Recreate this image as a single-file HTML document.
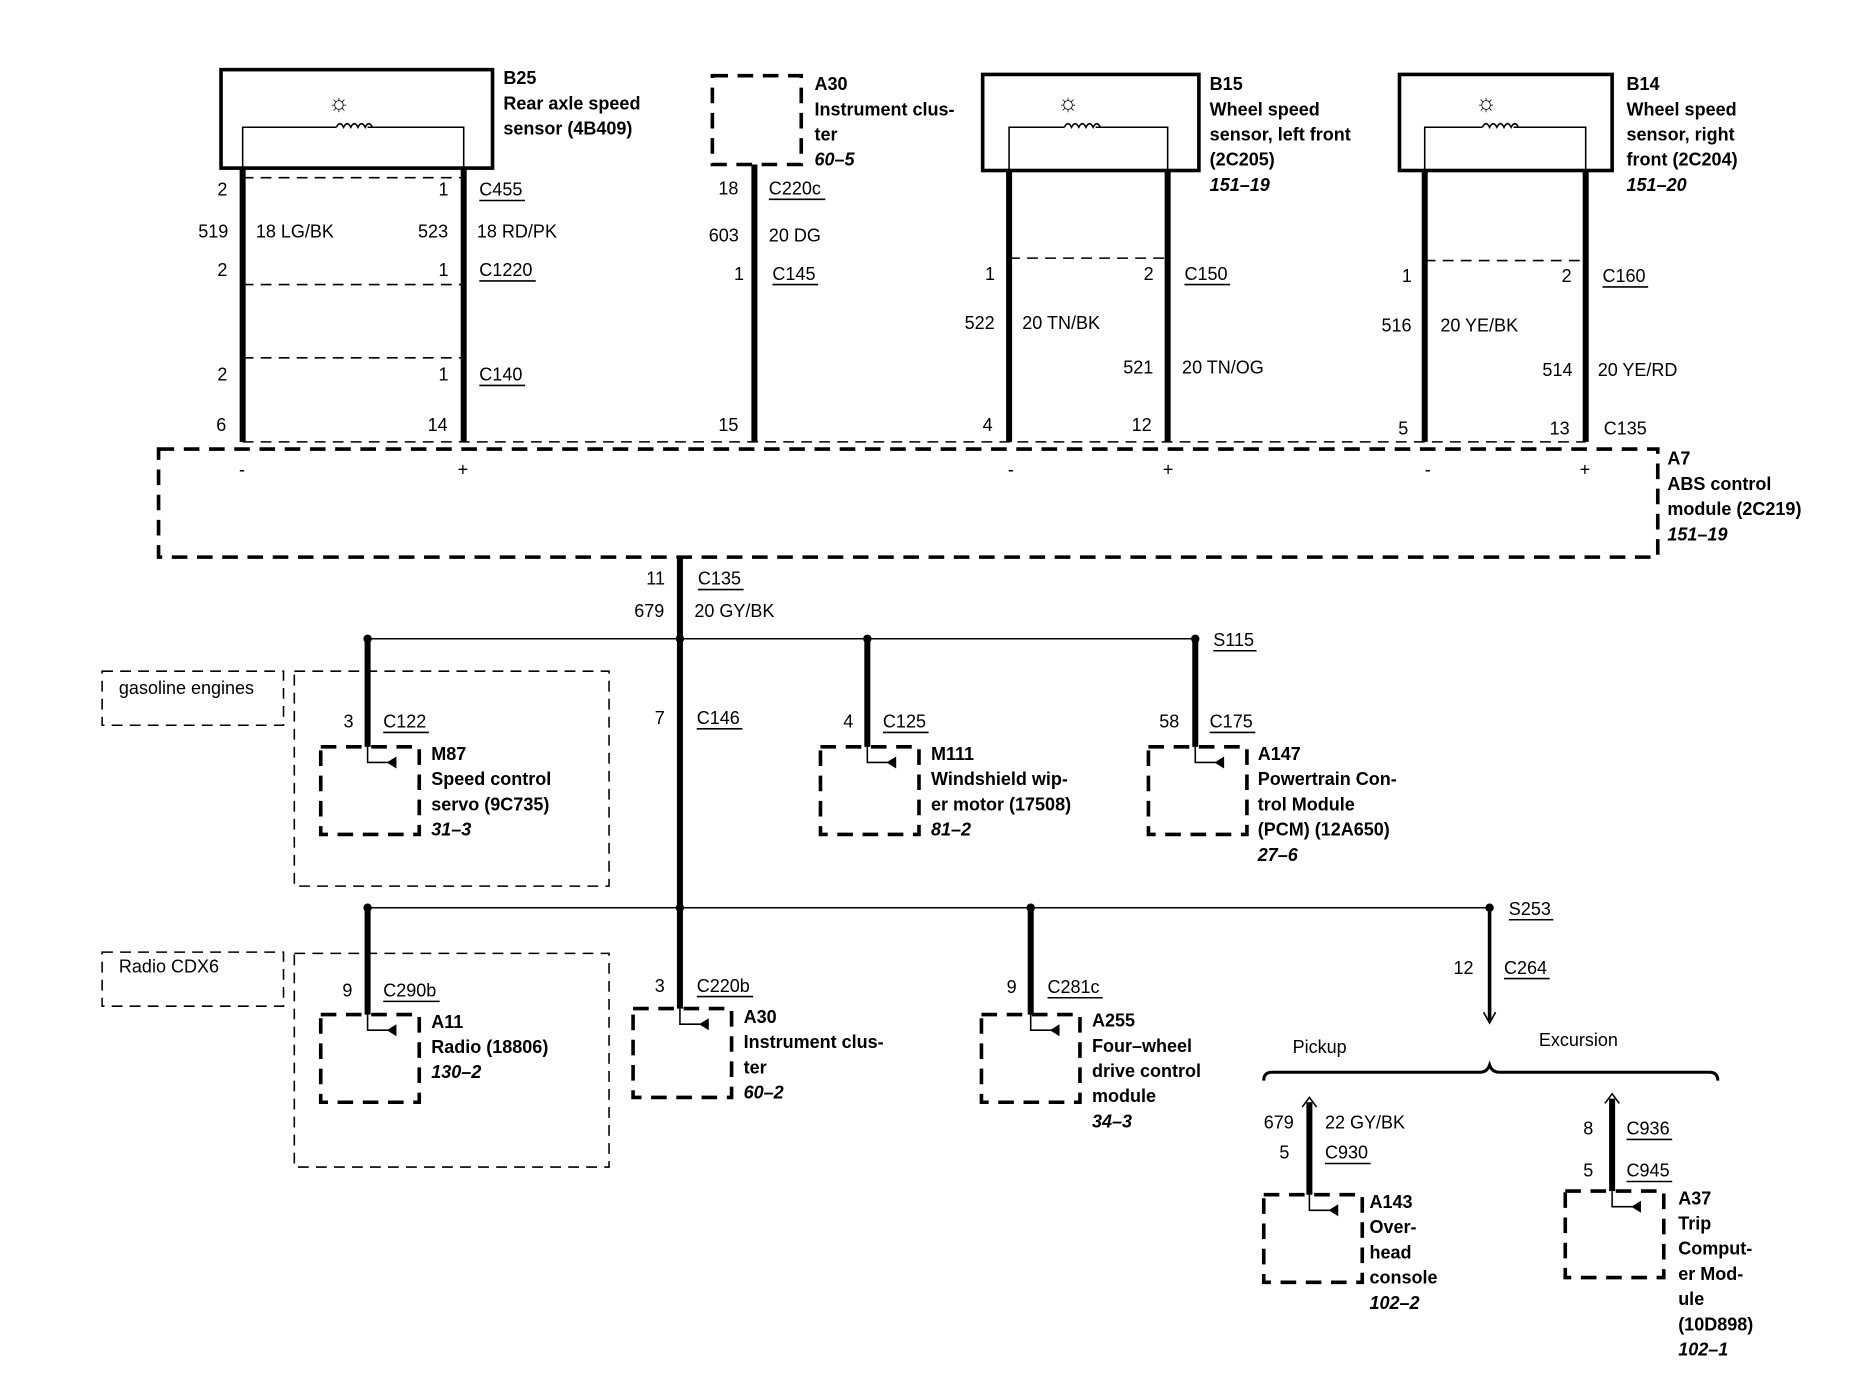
<!DOCTYPE html>
<html><head><meta charset="utf-8"><style>
html,body{margin:0;padding:0;background:#fff;}
svg{display:block;}
text{font-family:"Liberation Sans",sans-serif;font-size:15px;fill:#000;}
.b{font-weight:bold;}
.i{font-weight:bold;font-style:italic;}
.w{stroke:#000;stroke-width:5;fill:none;}
.t{stroke:#000;stroke-width:1.3;fill:none;}
.d{stroke:#000;stroke-width:1.3;fill:none;stroke-dasharray:9 6;}
.m{stroke:#000;stroke-width:3;fill:none;stroke-dasharray:13 8;}
.s{stroke:#000;stroke-width:3;fill:none;}
</style></head><body>
<svg width="1874" height="1376" viewBox="0 0 1560 1146" preserveAspectRatio="none" xmlns="http://www.w3.org/2000/svg">
<rect width="1560" height="1146" fill="#fff"/>

<!-- B25 -->
<rect x="184" y="58" width="226" height="82" class="s"/>
<path class="t" d="M202 148 V106 H280 M306 106 H386 V148"/>
<path class="t" d="M280 106 q3-6 6 0 q3-6 6 0 q3-6 6 0 q3-6 6 0 q3-6 6 0"/>
<text x="273" y="92" style="font-size:20px">☼</text>
<text x="419" y="70" class="b">B25</text>
<text x="419" y="91" class="b">Rear axle speed</text>
<text x="419" y="112" class="b">sensor (4B409)</text>
<path class="w" d="M202 140 V368 M386 140 V368"/>
<path class="d" d="M202 148 H386 M202 237 H386 M202 298 H386"/>
<text x="181" y="163">2</text><text x="365" y="163">1</text><text x="399" y="163">C455</text><path class="t" d="M399 167 H437"/>
<text x="165" y="198">519</text><text x="213" y="198">18 LG/BK</text><text x="348" y="198">523</text><text x="397" y="198">18 RD/PK</text>
<text x="181" y="230">2</text><text x="365" y="230">1</text><text x="399" y="230">C1220</text><path class="t" d="M399 234 H446"/>
<text x="181" y="317">2</text><text x="365" y="317">1</text><text x="399" y="317">C140</text><path class="t" d="M399 321 H437"/>
<text x="180" y="359">6</text><text x="356" y="359">14</text>

<!-- A30 top -->
<rect x="593" y="63" width="74" height="74" class="m"/>
<path class="w" d="M628 137 V368"/>
<text x="678" y="75" class="b">A30</text>
<text x="678" y="96" class="b">Instrument clus-</text>
<text x="678" y="117" class="b">ter</text>
<text x="678" y="138" class="i">60–5</text>
<text x="598" y="162">18</text><text x="640" y="162">C220c</text><path class="t" d="M640 166 H687"/>
<text x="590" y="201">603</text><text x="640" y="201">20 DG</text>
<text x="611" y="233">1</text><text x="643" y="233">C145</text><path class="t" d="M643 237 H681"/>
<text x="598" y="359">15</text>

<!-- B15 -->
<rect x="818" y="62" width="180" height="80" class="s"/>
<path class="t" d="M840 150 V106 H886 M912 106 H972 V150"/>
<path class="t" d="M886 106 q3-6 6 0 q3-6 6 0 q3-6 6 0 q3-6 6 0 q3-6 6 0"/>
<text x="880" y="92" style="font-size:20px">☼</text>
<path class="w" d="M840 142 V368 M972 142 V368"/>
<path class="d" d="M840 215 H972"/>
<text x="1007" y="75" class="b">B15</text>
<text x="1007" y="96" class="b">Wheel speed</text>
<text x="1007" y="117" class="b">sensor, left front</text>
<text x="1007" y="138" class="b">(2C205)</text>
<text x="1007" y="159" class="i">151–19</text>
<text x="820" y="233">1</text><text x="952" y="233">2</text><text x="986" y="233">C150</text><path class="t" d="M986 237 H1024"/>
<text x="803" y="274">522</text><text x="851" y="274">20 TN/BK</text>
<text x="935" y="311">521</text><text x="984" y="311">20 TN/OG</text>
<text x="818" y="359">4</text><text x="942" y="359">12</text>

<!-- B14 -->
<rect x="1165" y="62" width="177" height="80" class="s"/>
<path class="t" d="M1186 150 V106 H1234 M1260 106 H1320 V150"/>
<path class="t" d="M1234 106 q3-6 6 0 q3-6 6 0 q3-6 6 0 q3-6 6 0 q3-6 6 0"/>
<text x="1228" y="92" style="font-size:20px">☼</text>
<path class="w" d="M1186 142 V368 M1320 142 V368"/>
<path class="d" d="M1186 217 H1320"/>
<text x="1354" y="75" class="b">B14</text>
<text x="1354" y="96" class="b">Wheel speed</text>
<text x="1354" y="117" class="b">sensor, right</text>
<text x="1354" y="138" class="b">front (2C204)</text>
<text x="1354" y="159" class="i">151–20</text>
<text x="1167" y="235">1</text><text x="1300" y="235">2</text><text x="1334" y="235">C160</text><path class="t" d="M1334 239 H1372"/>
<text x="1150" y="276">516</text><text x="1199" y="276">20 YE/BK</text>
<text x="1284" y="313">514</text><text x="1330" y="313">20 YE/RD</text>
<text x="1164" y="362">5</text><text x="1290" y="362">13</text><text x="1335" y="362">C135</text>

<!-- C135 dashed line & ABS module -->
<path class="d" d="M202 368 H1320"/>
<rect x="132" y="374" width="1248" height="90" class="m"/>
<text x="199" y="396">-</text><text x="381" y="396">+</text>
<text x="839" y="396">-</text><text x="968" y="396">+</text>
<text x="1186" y="396">-</text><text x="1315" y="396">+</text>
<text x="1388" y="387" class="b">A7</text>
<text x="1388" y="408" class="b">ABS control</text>
<text x="1388" y="429" class="b">module (2C219)</text>
<text x="1388" y="450" class="i">151–19</text>

<!-- trunk -->
<path class="w" d="M566 464 V757"/>
<text x="538" y="487">11</text><text x="581" y="487">C135</text><path class="t" d="M581 491 H619"/>
<text x="528" y="514">679</text><text x="578" y="514">20 GY/BK</text>

<!-- bus 1 -->
<path class="t" d="M306 532 H995"/>
<circle cx="306" cy="532" r="3.5"/><circle cx="566" cy="532" r="3.5"/><circle cx="722" cy="532" r="3.5"/><circle cx="995" cy="532" r="3.5"/>
<text x="1010" y="538">S115</text><path class="t" d="M1010 542 H1046"/>
<text x="545" y="603">7</text><text x="580" y="603">C146</text><path class="t" d="M580 607 H618"/>

<rect x="85" y="559" width="151" height="45" class="d"/>
<text x="99" y="578">gasoline engines</text>
<rect x="245" y="559" width="262" height="179" class="d"/>

<!-- M87 -->
<path class="w" d="M306 532 V622"/>
<rect x="267" y="622" width="82" height="73" class="m"/>
<path class="t" d="M306 622 V635 H330"/><path d="M322 635 l8-5 v10z"/>
<text x="286" y="606">3</text><text x="319" y="606">C122</text><path class="t" d="M319 610 H357"/>
<text x="359" y="633" class="b">M87</text>
<text x="359" y="654" class="b">Speed control</text>
<text x="359" y="675" class="b">servo (9C735)</text>
<text x="359" y="696" class="i">31–3</text>

<!-- M111 -->
<path class="w" d="M722 532 V622"/>
<rect x="683" y="622" width="82" height="73" class="m"/>
<path class="t" d="M722 622 V635 H746"/><path d="M738 635 l8-5 v10z"/>
<text x="702" y="606">4</text><text x="735" y="606">C125</text><path class="t" d="M735 610 H773"/>
<text x="775" y="633" class="b">M111</text>
<text x="775" y="654" class="b">Windshield wip-</text>
<text x="775" y="675" class="b">er motor (17508)</text>
<text x="775" y="696" class="i">81–2</text>

<!-- A147 -->
<path class="w" d="M995 532 V622"/>
<rect x="956" y="622" width="82" height="73" class="m"/>
<path class="t" d="M995 622 V635 H1019"/><path d="M1011 635 l8-5 v10z"/>
<text x="965" y="606">58</text><text x="1007" y="606">C175</text><path class="t" d="M1007 610 H1045"/>
<text x="1047" y="633" class="b">A147</text>
<text x="1047" y="654" class="b">Powertrain Con-</text>
<text x="1047" y="675" class="b">trol Module</text>
<text x="1047" y="696" class="b">(PCM) (12A650)</text>
<text x="1047" y="717" class="i">27–6</text>

<!-- bus 2 -->
<path class="t" d="M306 756 H1240"/>
<circle cx="306" cy="756" r="3.5"/><circle cx="566" cy="756" r="3.5"/><circle cx="858" cy="756" r="3.5"/><circle cx="1240" cy="756" r="3.5"/>
<text x="1256" y="762">S253</text><path class="t" d="M1256 766 H1293"/>

<rect x="85" y="793" width="151" height="45" class="d"/>
<text x="99" y="810">Radio CDX6</text>
<rect x="245" y="794" width="262" height="178" class="d"/>

<!-- A11 -->
<path class="w" d="M306 756 V845"/>
<rect x="267" y="845" width="82" height="73" class="m"/>
<path class="t" d="M306 845 V858 H330"/><path d="M322 858 l8-5 v10z"/>
<text x="285" y="830">9</text><text x="319" y="830">C290b</text><path class="t" d="M319 834 H366"/>
<text x="359" y="856" class="b">A11</text>
<text x="359" y="877" class="b">Radio (18806)</text>
<text x="359" y="898" class="i">130–2</text>

<!-- A30 bottom -->
<path class="w" d="M566 756 V840"/>
<rect x="527" y="840" width="82" height="74" class="m"/>
<path class="t" d="M566 840 V853 H590"/><path d="M582 853 l8-5 v10z"/>
<text x="545" y="826">3</text><text x="580" y="826">C220b</text><path class="t" d="M580 830 H627"/>
<text x="619" y="852" class="b">A30</text>
<text x="619" y="873" class="b">Instrument clus-</text>
<text x="619" y="894" class="b">ter</text>
<text x="619" y="915" class="i">60–2</text>

<!-- A255 -->
<path class="w" d="M858 756 V845"/>
<rect x="817" y="845" width="82" height="73" class="m"/>
<path class="t" d="M858 845 V858 H882"/><path d="M874 858 l8-5 v10z"/>
<text x="838" y="827">9</text><text x="872" y="827">C281c</text><path class="t" d="M872 831 H918"/>
<text x="909" y="855" class="b">A255</text>
<text x="909" y="876" class="b">Four–wheel</text>
<text x="909" y="897" class="b">drive control</text>
<text x="909" y="918" class="b">module</text>
<text x="909" y="939" class="i">34–3</text>

<!-- S253 branch -->
<path style="stroke:#000;stroke-width:3;fill:none" d="M1240 756 V850"/>
<path class="t" d="M1235 843 L1240 852 L1245 843"/>
<text x="1210" y="811">12</text><text x="1252" y="811">C264</text><path class="t" d="M1252 815 H1290"/>
<path style="stroke:#000;stroke-width:2.5;fill:none" d="M1052 900 q0-7 7-7 H1232 q6 0 8-6 q2 6 8 6 H1423 q7 0 7 7"/>
<text x="1076" y="877">Pickup</text>
<text x="1281" y="871">Excursion</text>

<!-- A143 -->
<path class="w" d="M1090 918 V995"/>
<path class="t" d="M1084 922 L1090 914 L1096 922"/>
<rect x="1052" y="995" width="82" height="73" class="m"/>
<path class="t" d="M1090 995 V1008 H1114"/><path d="M1106 1008 l8-5 v10z"/>
<text x="1052" y="940">679</text><text x="1103" y="940">22 GY/BK</text>
<text x="1065" y="965">5</text><text x="1103" y="965">C930</text><path class="t" d="M1103 969 H1141"/>
<text x="1140" y="1006" class="b">A143</text>
<text x="1140" y="1027" class="b">Over-</text>
<text x="1140" y="1048" class="b">head</text>
<text x="1140" y="1069" class="b">console</text>
<text x="1140" y="1090" class="i">102–2</text>

<!-- A37 -->
<path class="w" d="M1342 915 V992"/>
<path class="t" d="M1336 919 L1342 911 L1348 919"/>
<rect x="1303" y="992" width="82" height="72" class="m"/>
<path class="t" d="M1342 992 V1005 H1366"/><path d="M1358 1005 l8-5 v10z"/>
<text x="1318" y="945">8</text><text x="1354" y="945">C936</text><path class="t" d="M1354 949 H1392"/>
<text x="1318" y="980">5</text><text x="1354" y="980">C945</text><path class="t" d="M1354 984 H1392"/>
<text x="1397" y="1003" class="b">A37</text>
<text x="1397" y="1024" class="b">Trip</text>
<text x="1397" y="1045" class="b">Comput-</text>
<text x="1397" y="1066" class="b">er Mod-</text>
<text x="1397" y="1087" class="b">ule</text>
<text x="1397" y="1108" class="b">(10D898)</text>
<text x="1397" y="1129" class="i">102–1</text>
</svg>
</body></html>
